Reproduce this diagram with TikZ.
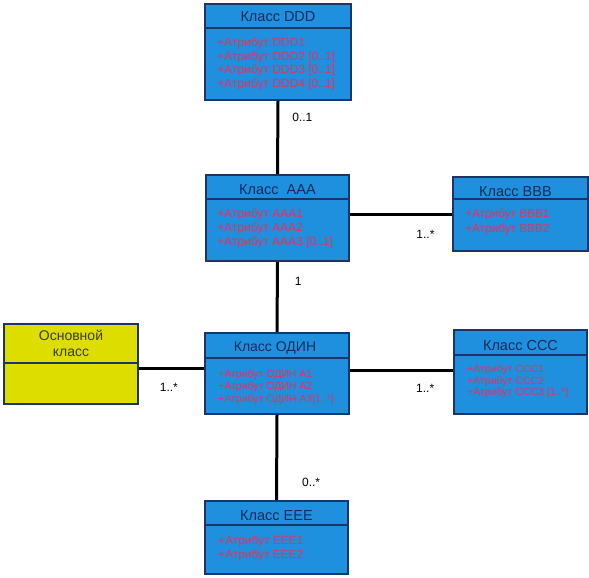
\documentclass[tikz,border=0pt]{standalone}
\usepackage{fontspec}
\setmainfont{Liberation Sans}
\usetikzlibrary{positioning}

\definecolor{clsfill}{RGB}{30,144,222}
\definecolor{clsline}{RGB}{28,52,104}
\definecolor{clstext}{RGB}{22,42,92}
\definecolor{attrred}{RGB}{232,48,92}
\definecolor{mainfill}{RGB}{221,221,0}
\definecolor{maintext}{RGB}{60,60,20}

\tikzset{
  cls/.style={draw=clsline, line width=2pt, fill=clsfill, anchor=north west, inner sep=0pt},
  mainbox/.style={cls, fill=mainfill},
  divider/.style={draw=clsline, line width=1.2pt},
  ttl/.style={inner sep=0pt, text=clstext, font=\fontsize{14.5}{16.5}\selectfont, align=center},
  attr/.style 2 args={inner sep=0pt, anchor=north west, align=left, text=attrred, font=\fontsize{#1}{#2}\selectfont},
  assoc/.style={line width=3pt, black},
  mult/.style={inner sep=0pt, font=\fontsize{12}{14}\selectfont}
}

\begin{document}
\begin{tikzpicture}[x=1pt, y=-1pt]
  \useasboundingbox (0,0) rectangle (589,578);

  %класс DDD
  \node[cls, minimum width=146pt, minimum height=96pt] (ddd) at (204,3) {};
  \draw[divider] ([yshift=-25pt]ddd.north west) -- ([yshift=-25pt]ddd.north east);
  \node[ttl] at ([yshift=-14pt]ddd.north) {Класс DDD};
  \node[attr={12}{13.7}] at ([xshift=13pt,yshift=-34.5pt]ddd.north west)
    {+Атрибут DDD1\\+Атрибут DDD2 [0..1]\\+Атрибут DDD3 [0..1]\\+Атрибут DDD4 [0..1]};

  %класс AAA
  \node[cls, minimum width=143pt, minimum height=86pt] (aaa) at (205,174) {};
  \draw[divider] ([yshift=-25pt]aaa.north west) -- ([yshift=-25pt]aaa.north east);
  \node[ttl] at ([yshift=-16pt]aaa.north) {Класс\ \ AAA};
  \node[attr={12}{14.2}] at ([xshift=12pt,yshift=-34.5pt]aaa.north west)
    {+Атрибут AAA1\\+Атрибут AAA2\\+Атрибут AAA3 [0..1]};

  %класс BBB
  \node[cls, minimum width=135pt, minimum height=74pt] (bbb) at (452,176) {};
  \draw[divider] ([yshift=-23pt]bbb.north west) -- ([yshift=-23pt]bbb.north east);
  \node[ttl] at ([xshift=-5pt,yshift=-15.5pt]bbb.north) {Класс BBB};
  \node[attr={11.8}{14.3}] at ([xshift=13pt,yshift=-33pt]bbb.north west)
    {+Атрибут BBB1\\+Атрибут BBB2};

  %основной класс
  \node[mainbox, minimum width=134pt, minimum height=80pt] (osn) at (3,323) {};
  \draw[divider] ([yshift=-40pt]osn.north west) -- ([yshift=-40pt]osn.north east);
  \node[ttl, font=\fontsize{14}{16.5}\selectfont, text=maintext] at ([yshift=-20.5pt]osn.north) {Основной\\класс};

  %класс ОДИН
  \node[cls, minimum width=144pt, minimum height=81pt] (odin) at (204,332) {};
  \draw[divider] ([yshift=-26pt]odin.north west) -- ([yshift=-26pt]odin.north east);
  \node[ttl, font=\fontsize{14}{16}\selectfont] at ([xshift=-2pt,yshift=-16.3pt]odin.north) {Класс ОДИН};
  \node[attr={10.5}{12.5}] at ([xshift=14pt,yshift=-37.5pt]odin.north west)
    {+Атрибут ОДИН А1\\+Атрибут ОДИН А2\\+Атрибут ОДИН А3[1..*]};

  %класс CCC
  \node[cls, minimum width=133pt, minimum height=84pt] (ccc) at (453,329) {};
  \draw[divider] ([yshift=-26pt]ccc.north west) -- ([yshift=-26pt]ccc.north east);
  \node[ttl] at ([yshift=-16.7pt]ccc.north) {Класс CCC};
  \node[attr={10.5}{11.7}] at ([xshift=14pt,yshift=-35.5pt]ccc.north west)
    {+Атрибут CCC1\\+Атрибут CCC2\\+Атрибут CCC3 [1..*]};

  %класс EEE
  \node[cls, minimum width=143pt, minimum height=73pt] (eee) at (204,500) {};
  \draw[divider] ([yshift=-25pt]eee.north west) -- ([yshift=-25pt]eee.north east);
  \node[ttl] at ([yshift=-16pt]eee.north) {Класс EEE};
  \node[attr={11.9}{14}] at ([xshift=14pt,yshift=-35.5pt]eee.north west)
    {+Атрибут EEE1\\+Атрибут EEE2};

  %связи
  \draw[assoc] (ddd.south) -- node[mult, pos=.23, right=13pt] {0..1} (aaa.north);
  \draw[assoc] (aaa.east |- bbb.west) -- node[mult, pos=.74, below=15pt] {1..*} (bbb.west);
  \draw[assoc] (aaa.south) -- node[mult, pos=.27, right=16pt] {1} (odin.north);
  \draw[assoc] ([yshift=5pt]odin.west -| osn.east) -- node[mult, pos=.46, below=13pt] {1..*} ([yshift=5pt]odin.west);
  \draw[assoc] ([yshift=3pt]odin.east) -- node[mult, pos=.73, below=12pt] {1..*} ([yshift=3pt]odin.east -| ccc.west);
  \draw[assoc] (odin.south) -- node[mult, pos=.79, right=24pt] {0..*} (eee.north);
\end{tikzpicture}
\end{document}
